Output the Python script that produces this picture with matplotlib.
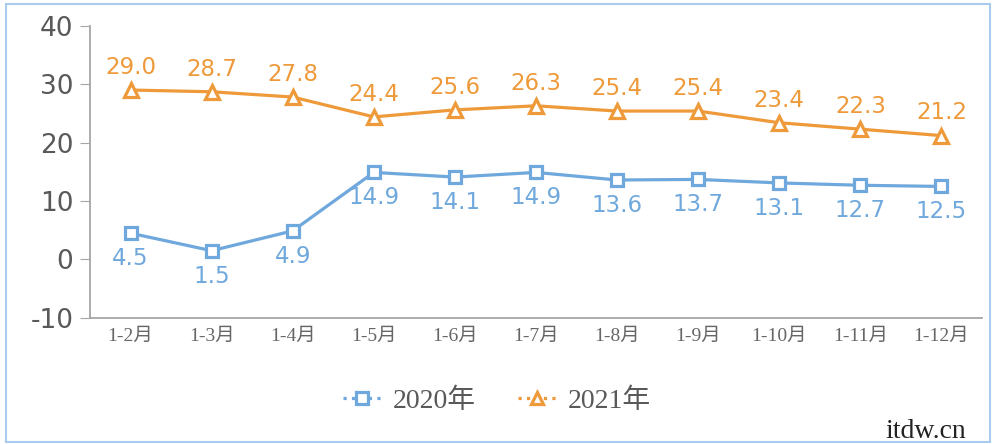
import matplotlib.pyplot as plt
from matplotlib.patches import Rectangle
from matplotlib.lines import Line2D

plt.rcParams["axes.unicode_minus"] = False

months = ["1-2月", "1-3月", "1-4月", "1-5月", "1-6月", "1-7月",
          "1-8月", "1-9月", "1-10月", "1-11月", "1-12月"]
y2020 = [4.5, 1.5, 4.9, 14.9, 14.1, 14.9, 13.6, 13.7, 13.1, 12.7, 12.5]
y2021 = [29.0, 28.7, 27.8, 24.4, 25.6, 26.3, 25.4, 25.4, 23.4, 22.3, 21.2]

blue = "#6FA8DC"
orange = "#EE9A3A"
grey = "#595959"
serif_cjk = ["Liberation Serif", "Noto Sans CJK SC"]

fig = plt.figure(figsize=(10, 4.44), dpi=100)
ax = fig.add_axes([0.09, 0.284, 0.892, 0.658])

x = list(range(len(months)))
ax.plot(x, y2020, color=blue, lw=2.3, marker="s", ms=8, mfc="white",
        mec=blue, mew=2.3, zorder=3)
ax.plot(x, y2021, color=orange, lw=2.3, marker="^", ms=10, mfc="white",
        mec=orange, mew=2.3, zorder=3)

for i, v in enumerate(y2020):
    ax.annotate(f"{v:.1f}", (i, v), xytext=(0, -10), textcoords="offset points",
                ha="center", va="top", color=blue, fontsize=16.5)
for i, v in enumerate(y2021):
    ax.annotate(f"{v:.1f}", (i, v), xytext=(0, 8), textcoords="offset points",
                ha="center", va="bottom", color=orange, fontsize=16.5)

ax.set_xlim(-0.5, len(months) - 0.5)
ax.set_ylim(-10, 40)
ax.set_yticks([-10, 0, 10, 20, 30, 40])
ax.set_xticks(x)
ax.set_xticklabels(months, family=serif_cjk, fontsize=14, color="#666666")
ax.tick_params(axis="x", length=0, pad=7)
ax.tick_params(axis="y", length=7, color="#A6A6A6", labelsize=19,
               labelcolor=grey, pad=5)
for s in ["top", "right"]:
    ax.spines[s].set_visible(False)
for s in ["left", "bottom"]:
    ax.spines[s].set_color("#A6A6A6")
    ax.spines[s].set_linewidth(1.3)

handles = [
    Line2D([], [], color=blue, lw=2.3, ls=":", marker="s", ms=8, mfc="white",
           mec=blue, mew=2.3),
    Line2D([], [], color=orange, lw=2.3, ls=":", marker="^", ms=9, mfc="white",
           mec=orange, mew=2.3),
]
ax.legend(handles, ["2020年", "2021年"], loc="center", bbox_to_anchor=(0.456, -0.285),
          ncol=2, frameon=False, prop={"family": serif_cjk, "size": 20},
          labelcolor=grey, handlelength=1.4, handletextpad=0.4, columnspacing=1.5)

fig.patches.append(Rectangle((0.006, 0.004), 0.984, 0.988, transform=fig.transFigure,
                             fill=False, edgecolor="#A9CBEF", lw=1.5))
fig.text(0.885, 0.0, "itdw.cn", family="Liberation Serif", fontsize=20,
         color="#222222", va="bottom")

fig.savefig("out.png", dpi=100)
